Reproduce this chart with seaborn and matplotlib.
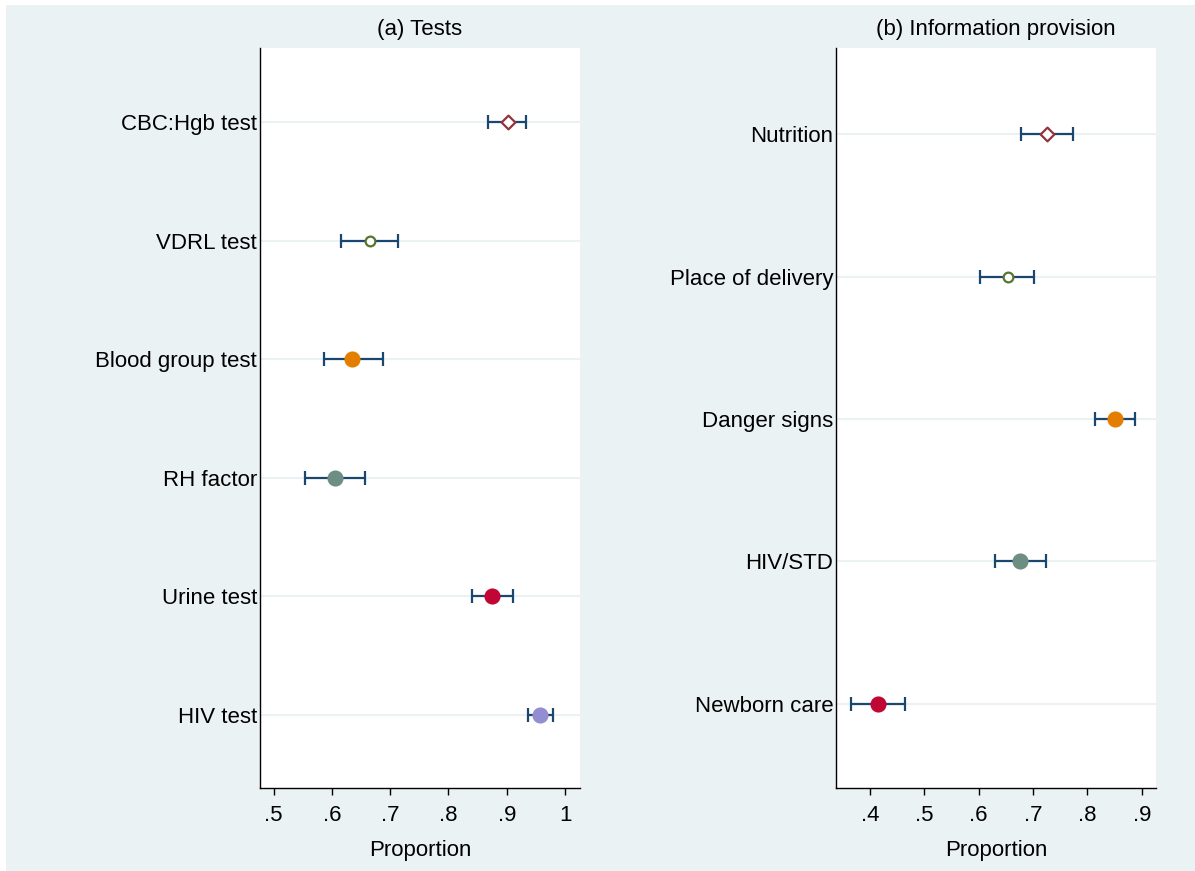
import pandas as pd
import matplotlib
matplotlib.use("Agg")
import matplotlib.pyplot as plt
from matplotlib.patches import Rectangle
import seaborn as sns

# Panel (a): tests
tests = ["CBC:Hgb test", "VDRL test", "Blood group test", "RH factor", "Urine test", "HIV test"]
tests_prop = [0.902, 0.665, 0.635, 0.605, 0.875, 0.957]
tests_lo = [0.868, 0.615, 0.586, 0.554, 0.840, 0.937]
tests_hi = [0.933, 0.714, 0.687, 0.657, 0.910, 0.979]

# Panel (b): information provision
info = ["Nutrition", "Place of delivery", "Danger signs", "HIV/STD", "Newborn care"]
info_prop = [0.726, 0.654, 0.851, 0.676, 0.415]
info_lo = [0.678, 0.603, 0.814, 0.630, 0.365]
info_hi = [0.774, 0.702, 0.888, 0.724, 0.464]

# Stata s2color-like palette
bg = "#EAF2F3"
navy = "#1A476F"
marker_styles = [
    dict(marker="D", color="#90353B", filled=False, size=7),
    dict(marker="o", color="#55752F", filled=False, size=7),
    dict(marker="o", color="#E37E00", filled=True, size=10),
    dict(marker="o", color="#6E8E84", filled=True, size=10),
    dict(marker="o", color="#C10534", filled=True, size=10),
    dict(marker="o", color="#938DD2", filled=True, size=10),
]

sns.set_style("white")
plt.rcParams["font.family"] = ["Liberation Sans", "DejaVu Sans"]
plt.rcParams["text.color"] = "black"
plt.rcParams["axes.labelcolor"] = "black"
plt.rcParams["xtick.color"] = "black"
plt.rcParams["ytick.color"] = "black"
FS = 16

W, H = 1195, 871
fig = plt.figure(figsize=(W / 100, H / 100), dpi=100, facecolor="white")
# light graph region with a thin white margin at top-left, as in the original export
fig.patches.append(Rectangle((6 / W, 0), 1 - 6 / W, 1 - 5 / H, transform=fig.transFigure,
                             facecolor=bg, edgecolor="none", zorder=-10))
ax_a = fig.add_axes([260 / W, 1 - 788 / H, 320 / W, 740 / H])
ax_b = fig.add_axes([836 / W, 1 - 788 / H, 320 / W, 740 / H])


def draw_panel(ax, labels, prop, lo, hi, title, xlim, ylim, xticks, xticklabels):
    df = pd.DataFrame({"label": labels, "prop": prop, "lo": lo, "hi": hi})
    df["pos"] = range(1, len(df) + 1)
    for p in df["pos"]:
        ax.axhline(p, color=bg, lw=1.5, zorder=0)
    ax.errorbar(df["prop"], df["pos"],
                xerr=[df["prop"] - df["lo"], df["hi"] - df["prop"]],
                fmt="none", ecolor=navy, elinewidth=1.6, capsize=5, capthick=1.6, zorder=2)
    for i, row in df.iterrows():
        st = marker_styles[i]
        sns.scatterplot(x=[row["prop"]], y=[row["pos"]], ax=ax, marker=st["marker"],
                        s=st["size"] ** 2,
                        facecolor=st["color"] if st["filled"] else "white",
                        edgecolor=st["color"], linewidth=1.6, zorder=3, legend=False)
    ax.set_xlim(*xlim)
    ax.set_ylim(*ylim)
    ax.set_yticks(df["pos"])
    ax.set_yticklabels(df["label"], fontsize=FS)
    ax.set_xticks(xticks)
    ax.set_xticklabels(xticklabels, fontsize=FS)
    ax.set_xlabel("Proportion", fontsize=FS, labelpad=10)
    ax.set_ylabel("")
    ax.set_title(title, fontsize=FS, pad=9)
    ax.set_facecolor("white")
    for s in ["top", "right"]:
        ax.spines[s].set_visible(False)
    for s in ["left", "bottom"]:
        ax.spines[s].set_color("black")
        ax.spines[s].set_linewidth(1.0)
    ax.tick_params(axis="x", bottom=True, length=5, width=1, color="black", pad=7)
    ax.tick_params(axis="y", left=False, length=0, pad=2)


draw_panel(ax_a, tests, tests_prop, tests_lo, tests_hi, "(a) Tests",
           (0.4765, 1.0257), (6.615, 0.376),
           [0.5, 0.6, 0.7, 0.8, 0.9, 1.0], [".5", ".6", ".7", ".8", ".9", "1"])
draw_panel(ax_b, info, info_prop, info_lo, info_hi, "(b) Information provision",
           (0.3374, 0.9263), (5.59, 0.396),
           [0.4, 0.5, 0.6, 0.7, 0.8, 0.9], [".4", ".5", ".6", ".7", ".8", ".9"])

fig.savefig("out.png", dpi=100, facecolor="white")
